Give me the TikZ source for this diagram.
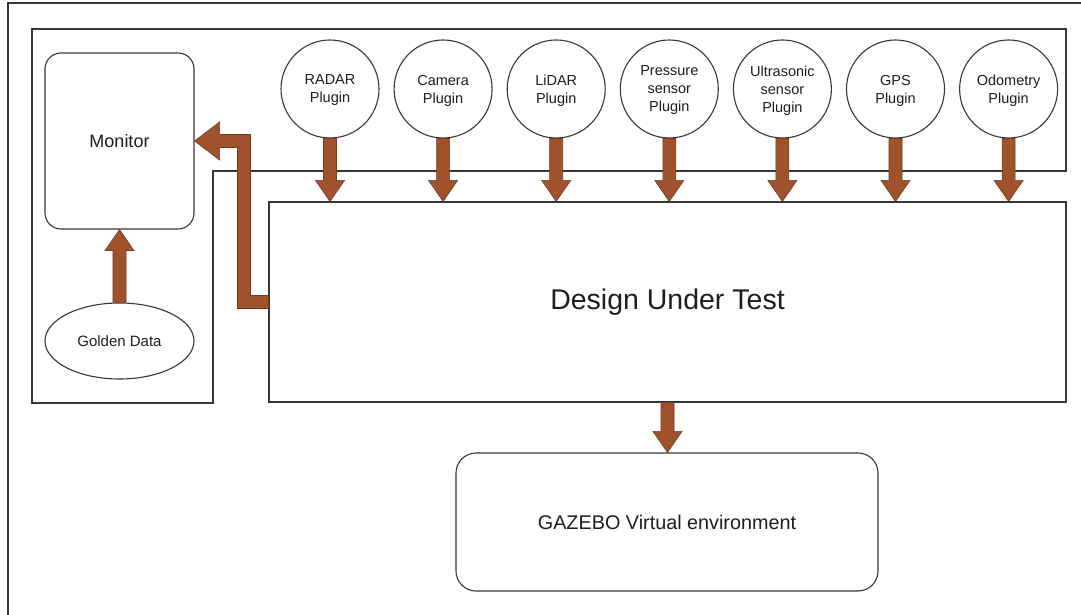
\documentclass[tikz,border=0pt]{standalone}
\usepackage{fontspec}
\setmainfont{Liberation Sans}
\usetikzlibrary{positioning,calc,shapes.geometric}

\definecolor{arrowfill}{RGB}{160,82,45}
\definecolor{arrowedge}{RGB}{115,58,32}
\definecolor{linegray}{RGB}{55,55,55}
\definecolor{textgray}{RGB}{30,30,30}

\tikzset{
  box/.style={draw=linegray, line width=1.1pt, text=textgray},
  plugin/.style={box, circle, minimum size=98pt, inner sep=0pt, align=center,
    text depth=-7pt, font=\fontsize{14.5}{18}\selectfont},
  fatarrow/.style={fill=arrowfill, draw=arrowedge, line width=0.6pt, line join=miter},
}

% fat vertical arrow from #1 to the level of #2
\newcommand\vfat[2]{%
  \path (#1) coordinate (fa) (#2 -| #1) coordinate (fb);
  \filldraw[fatarrow] let \p1=(fa), \p2=(fb), \n1={sign(\y2-\y1)} in
    (\x1-6.5pt,\y1) -- (\x1-6.5pt,\y2-\n1*21pt) -- (\x1-14.5pt,\y2-\n1*21pt)
    -- (\x2,\y2) -- (\x1+14.5pt,\y2-\n1*21pt) -- (\x1+6.5pt,\y2-\n1*21pt)
    -- (\x1+6.5pt,\y1) -- cycle;
}

\begin{document}
\begin{tikzpicture}[x=1pt,y=1pt]
  \useasboundingbox (0,0) rectangle (1081,615);
  \fill[white] (0,0) rectangle (1081,615);
  \draw[box] (8,-20) rectangle (1100,612);

  % frame round monitor and plugins
  \draw[box] (32,586) -- (1066,586) -- (1066,444) -- (213,444)
    -- (213,212) -- (32,212) -- cycle;

  \node[box, minimum width=797pt, minimum height=200pt]
    (dut) at (667.5,313) {\fontsize{28.5}{32}\selectfont Design Under Test};
  \node[box, rounded corners=16pt, minimum width=149pt, minimum height=176pt]
    (monitor) at (119.5,474) {\fontsize{18}{21}\selectfont Monitor};
  \node[box, ellipse, minimum width=149pt, minimum height=76pt, inner sep=0pt]
    (golden) at (119.5,274) {\fontsize{15}{18}\selectfont Golden Data};
  \node[box, rounded corners=20pt, minimum width=422pt, minimum height=138pt]
    (gazebo) at (667,93) {\fontsize{19.8}{23}\selectfont GAZEBO Virtual environment};

  \node[plugin] (radar) at (330,526) {RADAR\\Plugin};
  \node[plugin, right=14pt of radar] (camera) {Camera\\Plugin};
  \node[plugin, right=14pt of camera] (lidar) {LiDAR\\Plugin};
  \node[plugin, right=14pt of lidar] (pressure) {Pressure\\sensor\\Plugin};
  \node[plugin, right=14pt of pressure] (ultra) {Ultrasonic\\sensor\\Plugin};
  \node[plugin, right=14pt of ultra] (gps) {GPS\\Plugin};
  \node[plugin, right=14pt of gps] (odo) {Odometry\\Plugin};

  % arrows
  \foreach \p in {radar,camera,lidar,pressure,ultra,gps,odo}
    \vfat{\p.south}{dut.north};
  \vfat{dut.south}{gazebo.north}
  \vfat{golden.north}{monitor.south}

  \path (dut.west) coordinate (ea) (monitor.east) coordinate (eb);
  \filldraw[fatarrow] let \p1=(ea), \p2=(eb) in
    (\x1,\y1+6.5pt) -- (250.5pt,\y1+6.5pt) -- (250.5pt,\y2+6.5pt)
    -- (\x2+25pt,\y2+6.5pt) -- (\x2+25pt,\y2+19pt) -- (\x2,\y2)
    -- (\x2+25pt,\y2-19pt) -- (\x2+25pt,\y2-6.5pt) -- (237.5pt,\y2-6.5pt)
    -- (237.5pt,\y1-6.5pt) -- (\x1,\y1-6.5pt) -- cycle;
\end{tikzpicture}
\end{document}
